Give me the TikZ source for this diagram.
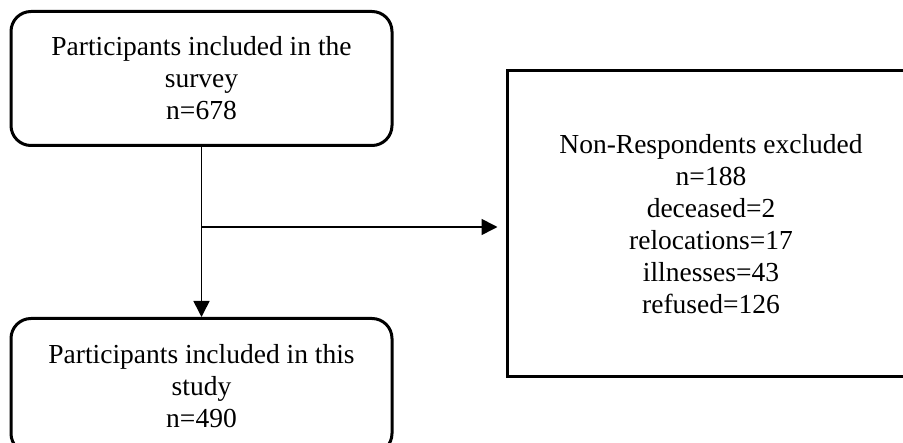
\documentclass[tikz,border=0pt]{standalone}
\usepackage{fontspec}
\setmainfont{Liberation Serif}
\usetikzlibrary{positioning,arrows.meta}

\begin{document}
\begin{tikzpicture}[x=1pt, y=-1pt,
    every node/.style={draw, line width=3pt, align=center, inner sep=0pt, font=\fontsize{27.5}{32}\selectfont},
    roundbox/.style={rounded corners=20pt, minimum width=381pt, minimum height=134pt},
    flow/.style={line width=1.6pt, -{Triangle[length=16pt,width=16pt]}},
    node distance=170pt]
    \clip (0,0) rectangle (903,443);
    % Nodes
    \node[roundbox] (survey) at (201.5,78.5) {Participants included in the\\survey\\n=678};
    \node[roundbox, minimum height=135pt] (study) [below=of survey] {Participants included in this\\study\\n=490};
    \node[minimum width=408pt, minimum height=306pt] (nonresp) at (711,224) {Non-Respondents excluded\\n=188\\deceased=2\\relocations=17\\illnesses=43\\refused=126};
    \coordinate (split) at (survey.south |- 0,227);

    % Arrows
    \draw[flow] (survey) -- (study);
    \draw[flow, shorten >=8pt] (split) -- (split -| nonresp.west);
\end{tikzpicture}
\end{document}
